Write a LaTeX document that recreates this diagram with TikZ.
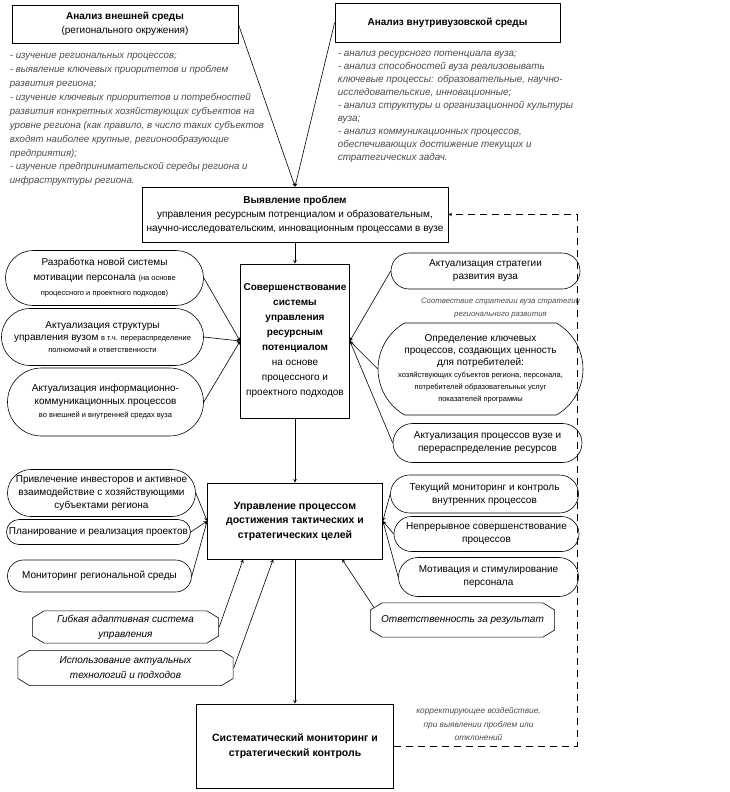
\documentclass[tikz,border=0pt]{standalone}
\usepackage{fontspec}
\setmainfont{Liberation Sans}
\usetikzlibrary{positioning}
\usetikzlibrary{arrows}
\usetikzlibrary{shapes.misc}

\newcommand{\melko}{\fontsize{7.5}{10}\selectfont}

\begin{document}
\begin{tikzpicture}[x=1pt,y=-1pt,on grid,>=stealth,
  blok/.style={draw,rectangle,align=center,inner sep=2pt,line width=0.7pt,font=\fontsize{10}{14}\selectfont},
  oval/.style={draw,rounded rectangle,align=center,inner sep=0pt,line width=0.6pt,font=\fontsize{10}{13}\selectfont},
  grani/.style={rectangle,align=center,inner sep=0pt,font=\itshape\fontsize{10}{15}\selectfont,
    path picture={\draw[line width=0.6pt]
      ([xshift=12pt,yshift=-0.4pt]path picture bounding box.north west)
      -- ([xshift=-12pt,yshift=-0.4pt]path picture bounding box.north east)
      -- ([xshift=-0.4pt,yshift=-7.5pt]path picture bounding box.north east)
      -- ([xshift=-0.4pt,yshift=7.5pt]path picture bounding box.south east)
      -- ([xshift=-12pt,yshift=0.4pt]path picture bounding box.south east)
      -- ([xshift=12pt,yshift=0.4pt]path picture bounding box.south west)
      -- ([xshift=0.4pt,yshift=7.5pt]path picture bounding box.south west)
      -- ([xshift=0.4pt,yshift=-7.5pt]path picture bounding box.north west)
      -- cycle;}},
  spisok/.style={align=left,inner sep=0pt,text=black!70,font=\itshape\fontsize{9.7}{13.9}\selectfont},
  primech/.style={align=center,inner sep=0pt,text=black!70,font=\itshape\fontsize{8}{13}\selectfont},
  svyaz/.style={->,line width=0.6pt},
  obratno/.style={->,dash pattern=on 7pt off 5pt,line width=0.6pt}]
  \useasboundingbox (0,0) rectangle (730,792);

  % analysis of environments
  \node[blok,minimum width=306pt,minimum height=55pt] (problemy) at (295,214.5)
    {\textbf{Выявление проблем}\\ управления ресурсным потренциалом и образовательным,\\
     научно-исследовательским, инновационным процессами в вузе};
  \node[blok,minimum width=226pt,minimum height=38pt] (vneshn) [above left=190.5pt and 170pt of problemy]
    {\textbf{Анализ внешней среды}\\ (регионального окружения)};
  \node[blok,minimum width=225pt,minimum height=39pt] (vnutr) [above right=192pt and 152.5pt of problemy]
    {\textbf{Анализ внутривузовской среды}};
  \node[spisok,anchor=north west] (vneshnSpisok) at ([xshift=-2pt,yshift=-10pt]vneshn.south west)
    {- изучение региональных процессов;\\
     - выявление ключевых приоритетов и проблем\\
     развития региона;\\
     - изучение ключевых приоритетов и потребностей\\
     развития конкретных хозяйствующих субъектов на\\
     уровне региона (как правило, в число таких субъектов\\
     входят наиболее крупные, регионообразующие\\
     предприятия);\\
     - изучение предпринимательской середы региона и\\
     инфраструктуры региона.};
  \node[spisok,anchor=north west,font=\itshape\fontsize{9.9}{13}\selectfont] (vnutrSpisok)
    at ([xshift=3pt,yshift=-9pt]vnutr.south west)
    {- анализ ресурсного потенциала вуза;\\
     - анализ способностей вуза реализовывать\\
     ключевые процессы: образовательные, научно-\\
     исследовательские, инновационные;\\
     - анализ структуры и организационной культуры\\
     вуза;\\
     - анализ коммуникационных процессов,\\
     обеспечивающих достижение текущих и\\
     стратегических задач.};

  % resource potential
  \node[blok,minimum width=109pt,minimum height=154pt,font=\fontsize{10}{15}\selectfont] (sovershenstv)
    [below=126.5pt of problemy]
    {\textbf{Совершенствование}\\ \textbf{системы}\\ \textbf{управления}\\ \textbf{ресурсным}\\
     \textbf{потенциалом}\\ на основе\\ процессного и\\ проектного подходов};
  \node[oval,minimum width=198pt,minimum height=55pt,font=\fontsize{10}{15}\selectfont] (motiv)
    [above left=63pt and 190.5pt of sovershenstv]
    {Разработка новой системы\\ мотивации персонала {\melko(на основе}\\ {\melko процессного и проектного подходов)}};
  \node[oval,minimum width=202pt,minimum height=57pt,font=\fontsize{10}{12}\selectfont] (struktura)
    [above left=4pt and 192.5pt of sovershenstv]
    {Актуализация структуры\\ управления вузом {\melko в т.ч. перераспределение}\\ {\melko полномочий и ответственности}};
  \node[oval,minimum width=196pt,minimum height=68pt] (infokom)
    [below left=61pt and 189.5pt of sovershenstv]
    {Актуализация информационно-\\ коммуникационных процессов\\ {\melko во внешней и внутренней средах вуза}};
  \node[oval,minimum width=189pt,minimum height=36pt] (strategia)
    [above right=70pt and 190.5pt of sovershenstv]
    {Актуализация стратегии\\ развития вуза};
  \node[primech,font=\itshape\fontsize{7.8}{13}\selectfont] (sootv) [above right=33pt and 205.5pt of sovershenstv]
    {Соотвествие стратегии вуза стратегии\\ регионального развития};
  \node[oval,minimum width=205pt,minimum height=92pt,font=\fontsize{10}{12}\selectfont,
    rounded rectangle arc length=120] (klyuch) [below right=28pt and 185.5pt of sovershenstv]
    {Определение ключевых\\ процессов, создающих ценность\\ для потребителей:\\
     {\melko хозяйствующих субъектов региона, персонала,}\\
     {\melko потребителей образовательных услуг}\\ {\melko показателей программы}};
  \node[oval,minimum width=189pt,minimum height=39pt] (pereraspr)
    [below right=102pt and 192.5pt of sovershenstv]
    {Актуализация процессов вузе и\\ перераспределение ресурсов};

  % management of processes
  \node[blok,minimum width=175pt,minimum height=76pt,font=\bfseries\fontsize{10.5}{14.5}\selectfont] (upravl)
    [below=180pt of sovershenstv]
    {Управление процессом\\ достижения тактических и\\ стратегических целей};
  \node[oval,minimum width=188pt,minimum height=47pt] (invest) [above left=28pt and 193.5pt of upravl]
    {Привлечение инвесторов и активное\\ взаимодействие с хозяйствующими\\ субъектами региона};
  \node[oval,minimum width=184pt,minimum height=25pt] (proekty) [below left=11pt and 196.5pt of upravl]
    {Планирование и реализация проектов};
  \node[oval,minimum width=184pt,minimum height=32pt] (monreg) [below left=55pt and 195.5pt of upravl]
    {Мониторинг региональной среды};
  \node[grani,minimum width=187pt,minimum height=33pt] (gibkaya) [below left=106pt and 169.5pt of upravl]
    {Гибкая адаптивная система\\ управления};
  \node[grani,minimum width=216pt,minimum height=36pt] (tehnol) [below left=147pt and 169.5pt of upravl]
    {Использование актуальных\\ технологий и подходов};
  \node[grani,minimum width=185pt,minimum height=35pt] (otvetstv) [below right=99pt and 167.5pt of upravl]
    {Ответственность за результат};
  \node[oval,minimum width=188pt,minimum height=38pt] (tekmon) [above right=27pt and 189.5pt of upravl]
    {Текущий мониторинг и контроль\\ внутренних процессов};
  \node[oval,minimum width=185pt,minimum height=35pt] (nepreryv) [below right=13pt and 191.5pt of upravl]
    {Непрерывное совершенствование\\ процессов};
  \node[oval,minimum width=180pt,minimum height=39pt] (stimul) [below right=56pt and 193.5pt of upravl]
    {Мотивация и стимулирование\\ персонала};

  % control
  \node[blok,minimum width=197pt,minimum height=84pt,font=\bfseries\fontsize{10.5}{14.5}\selectfont] (kontrol)
    [below=225pt of upravl]
    {Систематический мониторинг и\\ стратегический контроль};
  \node[primech,font=\itshape\fontsize{8.3}{13.5}\selectfont] (korrekt) [above right=22pt and 183.5pt of kontrol]
    {корректирующее воздействие,\\ при выявлении проблем или\\ отклонений};

  % connectors
  \draw[svyaz] (vneshn.east) -- (problemy.north);
  \draw[svyaz] (vnutr.west) -- (problemy.north);
  \draw[svyaz] (problemy.south) -- (sovershenstv.north);
  \draw[svyaz] (sovershenstv.south) -- (upravl.north);
  \draw[svyaz] (upravl.south) -- (kontrol.north);
  \foreach \s in {motiv,struktura,infokom}
    \draw[svyaz] (\s.east) -- (sovershenstv.west);
  \foreach \s in {strategia,klyuch,pereraspr}
    \draw[svyaz] (\s.west) -- (sovershenstv.east);
  \foreach \s in {invest,proekty,monreg}
    \draw[svyaz] (\s.east) -- (upravl.west);
  \foreach \s in {tekmon,nepreryv,stimul}
    \draw[svyaz] (\s.west) -- (upravl.east);
  \draw[svyaz] (gibkaya.east) -- ([xshift=36pt]upravl.south west);
  \draw[svyaz] (tehnol.east) -- ([xshift=66pt]upravl.south west);
  \draw[svyaz] ([xshift=4pt,yshift=-5pt]otvetstv.north west) -- ([xshift=135pt]upravl.south west);
  \draw[obratno] (kontrol.east) -- ++(183,0) |- (problemy.east);
\end{tikzpicture}
\end{document}
